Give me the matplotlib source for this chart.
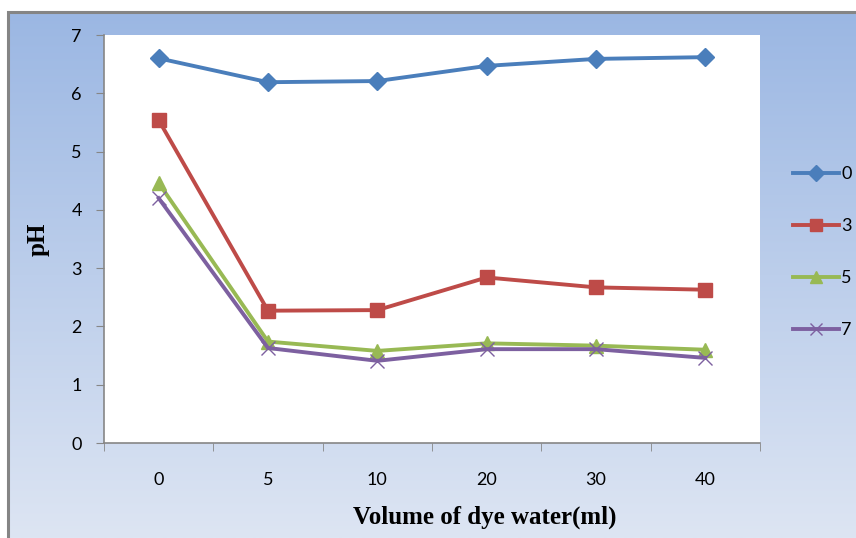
import numpy as np
import matplotlib
matplotlib.use("Agg")
import matplotlib.pyplot as plt
from matplotlib.patches import Rectangle

categories = ["0", "5", "10", "20", "30", "40"]
series_names = ["0", "3", "5", "7"]
ph_0 = [6.60, 6.19, 6.21, 6.47, 6.59, 6.62]
ph_3 = [5.54, 2.27, 2.28, 2.84, 2.67, 2.63]
ph_5 = [4.46, 1.74, 1.58, 1.71, 1.67, 1.60]
ph_7 = [4.20, 1.63, 1.41, 1.61, 1.61, 1.46]
y_ticks = [0, 1, 2, 3, 4, 5, 6, 7]

W, H = 856, 538
fig = plt.figure(figsize=(W / 100, H / 100), dpi=100)
fig.patch.set_facecolor("white")

# gradient background inside the chart border
bg = fig.add_axes([8 / W, 0, 1 - 8 / W, 1 - 12 / H])
top = np.array([155, 183, 227]) / 255
bot = np.array([221, 229, 243]) / 255
t = np.linspace(0, 1, 256)[:, None]
grad = top[None, :] * (1 - t) + bot[None, :] * t
bg.imshow(grad[:, None, :], aspect="auto", extent=[0, 1, 0, 1], origin="upper")
bg.set_xlim(0, 1)
bg.set_ylim(0, 1)
bg.axis("off")
bg.add_patch(Rectangle((0, -0.2), 1.3, 1.2, fill=False, edgecolor="#858585", lw=2.2,
                       transform=bg.transAxes, clip_on=False))

left, right, topp, bottom = 104, 760, 35, 443
ax = fig.add_axes([left / W, 1 - bottom / H, (right - left) / W, (bottom - topp) / H])
ax.set_facecolor("white")

x = np.arange(len(categories))
styles = [
    (ph_0, "#4A7EBB", "D", 9),
    (ph_3, "#BE4B48", "s", 10),
    (ph_5, "#98B954", "^", 10),
    (ph_7, "#7D60A0", "x", 10),
]
for (vals, col, mk, ms), name in zip(styles, series_names):
    kw = dict(markeredgecolor=col, markerfacecolor=col)
    if mk == "x":
        kw["markeredgewidth"] = 1.0
    ax.plot(x, vals, color=col, lw=2.8, marker=mk, markersize=ms, label=name, **kw)

ax.set_xlim(-0.5, len(categories) - 0.5)
ax.set_ylim(0, 7)
ax.set_yticks(y_ticks)
ax.set_xticks(x)
ax.set_xticklabels(categories)
ax.set_xticks(np.arange(-0.5, len(categories)), minor=True)
ax.tick_params(axis="x", which="major", length=0, pad=21, labelsize=13)
ax.tick_params(axis="x", which="minor", length=6, color="#868686", direction="out")
ax.tick_params(axis="y", length=6, color="#868686", labelsize=13, pad=10)
for lab in ax.get_xticklabels() + ax.get_yticklabels():
    lab.set_fontfamily("Lato")
for s in ["top", "right"]:
    ax.spines[s].set_visible(False)
for s in ["left", "bottom"]:
    ax.spines[s].set_color("#868686")
    ax.spines[s].set_linewidth(1.2)

ax.set_ylabel("pH", fontfamily="Liberation Serif", fontweight="bold", fontsize=18)
ax.yaxis.set_label_coords(-(104 - 38) / 656, 0.5)
ax.set_xlabel("Volume of dye water(ml)", fontfamily="Liberation Serif", fontweight="bold",
              fontsize=18)
ax.xaxis.set_label_coords((485 - 104) / 656, -(517 - 443) / 408)
ax.xaxis.label.set_va("center")
ax.yaxis.label.set_va("center")

leg = ax.legend(loc="center left", bbox_to_anchor=(1.026, 0.468), frameon=False,
                labelspacing=2.0, handlelength=2.55, handletextpad=0.1,
                prop={"family": "Lato", "size": 13}, markerscale=0.9)

fig.savefig("out.png", dpi=100)
